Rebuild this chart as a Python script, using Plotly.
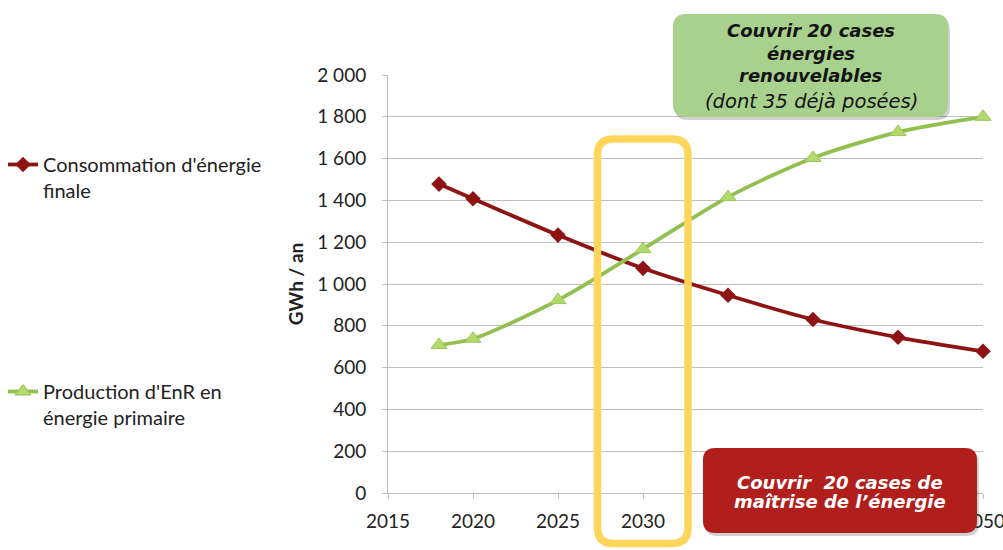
import plotly.graph_objects as go

years = [2018, 2020, 2025, 2030, 2035, 2040, 2045, 2050]
consommation = [1478, 1408, 1234, 1075, 946, 830, 745, 678]
production_enr = [708, 738, 923, 1167, 1416, 1603, 1727, 1800]

series_names = ["Consommation d'énergie<br>finale", "Production d'EnR en<br>énergie primaire"]
y_ticks = list(range(0, 2001, 200))
x_ticks = [2015, 2020, 2025, 2030, 2035, 2040, 2045, 2050]

green_box_lines = ["<b><i>Couvrir 20 cases</i></b>", "<b><i>énergies</i></b>",
                   "<b><i>renouvelables</i></b>", "<i>(dont 35 déjà posées)</i>"]
red_box_lines = ["<b><i>Couvrir  20 cases de</i></b>", "<b><i>maîtrise de l\u2019énergie</i></b>"]

W, H = 1003, 550
L, R, T, B = 388, 20, 75, 57
PW = W - L - R
PH = H - T - B


def pp(x, y):
    return ((x - L) / PW, (H - B - y) / PH)


def rounded_path(x0, y0, x1, y1, r):
    def P(x, y):
        a, b = pp(x, y)
        return f"{a:.5f},{b:.5f}"
    s = f"M {P(x0 + r, y0)} L {P(x1 - r, y0)} Q {P(x1, y0)} {P(x1, y0 + r)} "
    s += f"L {P(x1, y1 - r)} Q {P(x1, y1)} {P(x1 - r, y1)} "
    s += f"L {P(x0 + r, y1)} Q {P(x0, y1)} {P(x0, y1 - r)} "
    s += f"L {P(x0, y0 + r)} Q {P(x0, y0)} {P(x0 + r, y0)} Z"
    return s


FONT = "Lato, 'Open Sans', sans-serif"
BOXFONT = "'DejaVu Sans', Verdana, sans-serif"

fig = go.Figure()
fig.add_trace(go.Scatter(
    x=years, y=consommation, name=series_names[0], mode="lines+markers",
    line=dict(color="#8E1414", width=3.8, shape="spline", smoothing=0.8),
    marker=dict(symbol="diamond", size=12, color="#8E1414"),
    legendgroup="a", cliponaxis=False,
))
fig.add_trace(go.Scatter(
    x=years, y=production_enr, name=series_names[1], mode="lines+markers",
    line=dict(color="#92C04F", width=3.8, shape="spline", smoothing=0.8),
    marker=dict(symbol="triangle-up", size=14, color="#B2D96C",
                line=dict(color="#9CC65A", width=1)),
    legendgroup="b", cliponaxis=False,
))

shapes = [
    dict(type="path", xref="paper", yref="paper",
         path=rounded_path(597.5, 139, 688, 543.5, 16),
         line=dict(color="#FFD65C", width=7.5), layer="above"),
    dict(type="path", xref="paper", yref="paper",
         path=rounded_path(675, 17, 950, 120, 13),
         fillcolor="rgba(0,0,0,0.18)", line=dict(width=0), layer="above"),
    dict(type="path", xref="paper", yref="paper",
         path=rounded_path(673, 14, 948, 117, 13),
         fillcolor="#A9D18E", line=dict(width=0), layer="above"),
    dict(type="path", xref="paper", yref="paper",
         path=rounded_path(705, 451, 979, 536, 12),
         fillcolor="rgba(0,0,0,0.18)", line=dict(width=0), layer="above"),
    dict(type="path", xref="paper", yref="paper",
         path=rounded_path(703, 448, 977, 533, 12),
         fillcolor="#B11F1C", line=dict(width=0), layer="above"),
]

annotations = []
for txt, ypx, sz in zip(green_box_lines, [31, 53, 75, 101], [18, 18, 18, 19.5]):
    ax, ay = pp(811, ypx)
    annotations.append(dict(xref="paper", yref="paper", x=ax, y=ay, xanchor="center",
                            yanchor="middle", showarrow=False, text=txt,
                            font=dict(family=BOXFONT, size=sz, color="#141414")))
for txt, ypx in zip(red_box_lines, [482, 501]):
    ax, ay = pp(840, ypx)
    annotations.append(dict(xref="paper", yref="paper", x=ax, y=ay, xanchor="center",
                            yanchor="middle", showarrow=False, text=txt,
                            font=dict(family=BOXFONT, size=18, color="#FFFFFF")))

lx, ly = pp(3, 145)
fig.update_layout(
    width=W, height=H,
    margin=dict(l=L, r=R, t=T, b=B, autoexpand=False),
    paper_bgcolor="white", plot_bgcolor="white",
    separators=", ",
    font=dict(family=FONT, size=19, color="#222222"),
    showlegend=True,
    legend=dict(x=lx, y=ly, xanchor="left", yanchor="top", valign="top",
                tracegroupgap=172, font=dict(family=FONT, size=20, color="#222222"),
                bgcolor="rgba(0,0,0,0)", itemwidth=30),
    shapes=shapes,
    annotations=annotations,
    xaxis=dict(range=[2015, 2050], tickvals=x_ticks, showgrid=False,
               showline=True, linecolor="#BFBFBF", linewidth=1,
               ticks="outside", ticklen=5, tickcolor="#BFBFBF",
               tickfont=dict(size=19, color="#222222"), zeroline=False,
               ticklabelstandoff=6, ticklabeloverflow="allow"),
    yaxis=dict(range=[0, 2000], tickvals=y_ticks, tickformat=",d",
               showgrid=True, gridcolor="#BFBFBF", gridwidth=1,
               showline=True, linecolor="#BFBFBF", linewidth=1,
               ticks="outside", ticklen=5, tickcolor="#BFBFBF",
               tickfont=dict(size=19, color="#222222"), zeroline=False,
               ticklabelstandoff=12,
               title=dict(text="<b>GWh / an</b>", font=dict(size=19, color="#222222"),
                          standoff=8)),
)

fig.write_html("out.html")
